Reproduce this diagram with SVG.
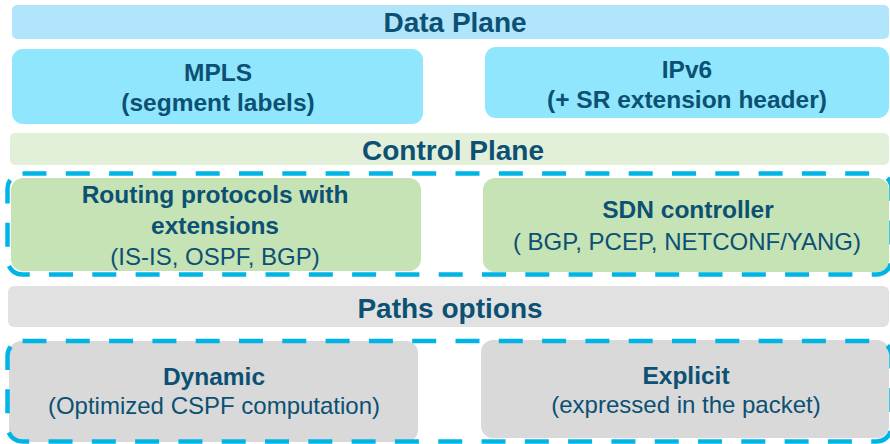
<svg xmlns="http://www.w3.org/2000/svg" width="890" height="444" viewBox="0 0 890 444">
<style>
text { font-family: "Liberation Sans", Arial, sans-serif; fill: #0c5073; text-anchor: middle; }
.title { font-size: 28px; font-weight: bold; }
.b { font-size: 24.5px; font-weight: bold; }
.r { font-size: 24px; }
.dash { fill: none; stroke: #00b5e6; stroke-width: 4.5; stroke-dasharray: 24 19.3; }
</style>
<rect width="890" height="444" fill="#ffffff"/>
<g id="data-plane">
  <rect x="12" y="5" width="877" height="34" rx="5" fill="#b0e5fb"/>
  <text class="title" x="455" y="32">Data Plane</text>
</g>
<g id="mpls">
  <rect x="12" y="49" width="411" height="75" rx="11" fill="#8fe6fd"/>
  <text class="b" x="218" y="81">MPLS</text>
  <text class="b" x="218" y="111">(segment labels)</text>
</g>
<g id="ipv6">
  <rect x="485" y="47" width="404" height="71" rx="11" fill="#8fe6fd"/>
  <text class="b" x="687" y="78">IPv6</text>
  <text class="b" x="687" y="108">(+ SR extension header)</text>
</g>
<g id="control-plane">
  <rect x="10" y="133" width="879" height="32" rx="5" fill="#e2f0d9"/>
  <text class="title" x="453" y="160">Control Plane</text>
</g>
<g id="routing">
  <rect x="11" y="178" width="410" height="93" rx="12" fill="#c5e3b4"/>
  <text class="b" x="215" y="203">Routing protocols with</text>
  <text class="b" x="215" y="234">extensions</text>
  <text class="r" x="215" y="265">(IS-IS, OSPF, BGP)</text>
</g>
<g id="sdn">
  <rect x="483" y="178" width="406" height="94" rx="12" fill="#c5e3b4"/>
  <text class="b" x="688" y="218">SDN controller</text>
  <text class="r" x="687" y="250">( BGP, PCEP, NETCONF/YANG)</text>
</g>
<g id="paths-options">
  <rect x="8" y="286" width="881" height="41" rx="6" fill="#e1e1e1"/>
  <text class="title" x="450" y="318">Paths options</text>
</g>
<g id="dynamic">
  <rect x="9" y="341" width="409" height="101" rx="12" fill="#d9d9d9"/>
  <text class="b" x="214" y="385">Dynamic</text>
  <text class="r" x="214" y="414">(Optimized CSPF computation)</text>
</g>
<g id="explicit">
  <rect x="481" y="340" width="408" height="98" rx="12" fill="#d9d9d9"/>
  <text class="b" x="686" y="384">Explicit</text>
  <text class="r" x="686" y="413">(expressed in the packet)</text>
</g>
<g id="connectors">
  <rect class="dash" x="7.5" y="173.5" width="884" height="101" rx="15"/>
  <rect class="dash" x="7.5" y="341" width="884" height="100.5" rx="15"/>
</g>
</svg>
